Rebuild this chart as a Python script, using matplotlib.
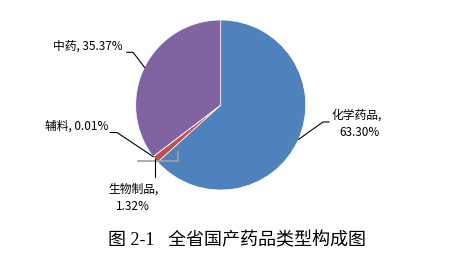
import matplotlib
matplotlib.use("Agg")
import matplotlib.pyplot as plt
import numpy as np
from matplotlib.lines import Line2D

plt.rcParams['font.family'] = ['Noto Sans CJK SC', 'DejaVu Sans']

categories = ['化学药品', '生物制品', '辅料', '中药']
values = [63.30, 1.32, 0.01, 35.37]
value_labels = ['63.30%', '1.32%', '0.01%', '35.37%']
colors = ['#4F81BD', '#C0504D', '#9BBB59', '#8064A2']
title = '图 2-1   全省国产药品类型构成图'

W, H = 450, 272
fig = plt.figure(figsize=(4.5, 2.72), dpi=100)

def fx(x):
    return x / W

def fy(y):
    return 1 - y / H

cx, cy, r = 220.7, 105.0, 85.0
ax = fig.add_axes([fx(cx - r), fy(cy + r), 2 * r / W, 2 * r / H])
wedges, _ = ax.pie(values, colors=colors, startangle=90, counterclock=False,
                   wedgeprops=dict(edgecolor='white', linewidth=0.5))
ax.set_xlim(-1, 1)
ax.set_ylim(-1, 1)
ax.set_aspect('auto')
ax.axis('off')

# anchor points on the rim (pixel coords) from wedge mid angles
anchors = []
for w in wedges:
    ang = np.deg2rad((w.theta1 + w.theta2) / 2)
    anchors.append((cx + r * np.cos(ang), cy - r * np.sin(ang)))

def line(pts, color='black', lw=0.8):
    xs = [fx(p[0]) for p in pts]
    ys = [fy(p[1]) for p in pts]
    fig.add_artist(Line2D(xs, ys, color=color, lw=lw, transform=fig.transFigure))

fs = 8.5
# 化学药品
line([anchors[0], (323, 122), (329, 122)])
fig.text(fx(332), fy(115), categories[0] + ',', fontsize=fs, ha='left', va='center')
fig.text(fx(359), fy(133), value_labels[0], fontsize=fs, ha='center', va='center')

# 生物制品
line([(138, 160.5), (178, 160.5)], color='#A0A0A0', lw=1.2)
line([(178, 152), (178, 160.5)], color='#A0A0A0', lw=1.2)
line([anchors[1], (anchors[1][0], 177)])
fig.text(fx(134), fy(189), categories[1] + ',', fontsize=fs, ha='center', va='center')
fig.text(fx(133), fy(207), value_labels[1], fontsize=fs, ha='center', va='center')

# 辅料
line([anchors[2], (117, 132.5), (110, 132.5)])
fig.text(fx(108), fy(126), categories[2] + ', ' + value_labels[2], fontsize=fs,
         ha='right', va='center')

# 中药
line([anchors[3], (133, 52.3), (127, 52.3)])
fig.text(fx(123), fy(46), categories[3] + ', ' + value_labels[3], fontsize=fs,
         ha='right', va='center')

fig.text(fx(108), fy(241), title, fontsize=13, ha='left', va='center',
         family=['Liberation Serif', 'Noto Sans CJK SC'])

fig.savefig('out.png', dpi=100)
